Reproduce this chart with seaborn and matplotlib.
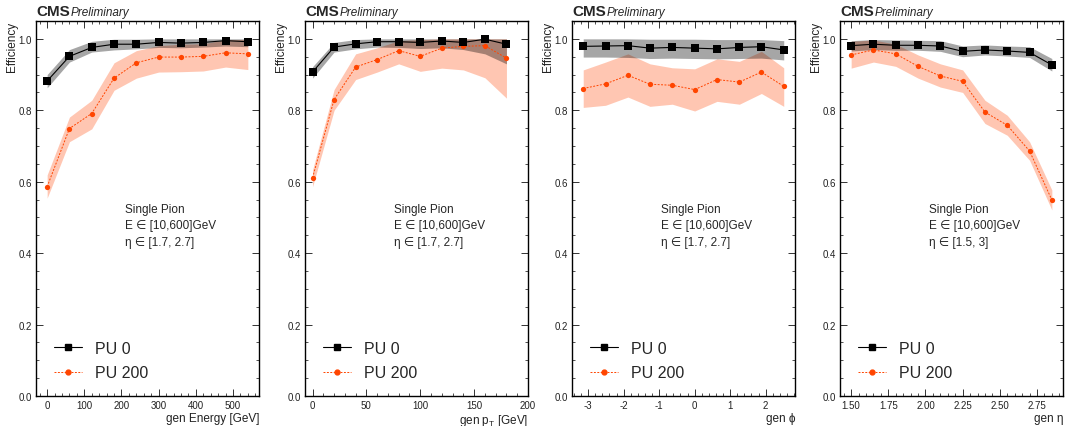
import numpy as np
import pandas as pd
import matplotlib
matplotlib.use("Agg")
import matplotlib.pyplot as plt
import seaborn as sns
from matplotlib.ticker import AutoMinorLocator, MultipleLocator
from matplotlib.lines import Line2D

# ---------------- data ----------------
energy_x = [0, 60, 120, 180, 240, 300, 360, 420, 480, 540]
energy_pu0 = [0.882, 0.951, 0.976, 0.985, 0.985, 0.990, 0.988, 0.990, 0.995, 0.992]
energy_pu0_lo = [0.863, 0.935, 0.963, 0.969, 0.972, 0.976, 0.975, 0.977, 0.980, 0.978]
energy_pu0_hi = [0.900, 0.970, 0.993, 0.999, 0.999, 1.000, 1.000, 1.000, 1.000, 1.000]
energy_pu200 = [0.586, 0.749, 0.791, 0.890, 0.933, 0.949, 0.949, 0.951, 0.961, 0.958]
energy_pu200_lo = [0.554, 0.712, 0.748, 0.856, 0.890, 0.907, 0.908, 0.910, 0.921, 0.914]
energy_pu200_hi = [0.619, 0.781, 0.828, 0.933, 0.967, 0.981, 0.985, 0.986, 0.998, 0.998]

pt_x = [0, 20, 40, 60, 80, 100, 120, 140, 160, 180]
pt_pu0 = [0.907, 0.977, 0.986, 0.992, 0.992, 0.990, 0.994, 0.990, 0.999, 0.985]
pt_pu0_lo = [0.890, 0.963, 0.972, 0.977, 0.976, 0.973, 0.975, 0.970, 0.958, 0.930]
pt_pu0_hi = [0.922, 0.990, 0.998, 1.000, 1.000, 1.000, 1.000, 1.000, 1.000, 1.000]
pt_pu200 = [0.611, 0.830, 0.921, 0.942, 0.967, 0.951, 0.974, 0.979, 0.981, 0.946]
pt_pu200_lo = [0.586, 0.800, 0.886, 0.907, 0.930, 0.909, 0.918, 0.913, 0.891, 0.834]
pt_pu200_hi = [0.633, 0.858, 0.958, 0.975, 0.995, 0.998, 1.000, 1.000, 1.000, 1.000]

phi_x = [-3.14, -2.51, -1.88, -1.26, -0.63, 0.00, 0.63, 1.26, 1.88, 2.51]
phi_pu0 = [0.979, 0.980, 0.981, 0.974, 0.976, 0.974, 0.972, 0.976, 0.978, 0.969]
phi_pu0_lo = [0.949, 0.949, 0.948, 0.945, 0.946, 0.945, 0.944, 0.945, 0.946, 0.941]
phi_pu0_hi = [1.000, 1.000, 1.000, 0.999, 0.999, 0.999, 0.998, 0.998, 0.998, 0.995]
phi_pu200 = [0.861, 0.874, 0.898, 0.873, 0.870, 0.858, 0.886, 0.879, 0.907, 0.867]
phi_pu200_lo = [0.808, 0.814, 0.837, 0.811, 0.817, 0.798, 0.825, 0.817, 0.847, 0.811]
phi_pu200_hi = [0.913, 0.935, 0.958, 0.930, 0.919, 0.916, 0.944, 0.937, 0.965, 0.919]

eta_x = [1.50, 1.65, 1.80, 1.95, 2.10, 2.25, 2.40, 2.55, 2.70, 2.85]
eta_pu0 = [0.981, 0.985, 0.982, 0.982, 0.980, 0.965, 0.969, 0.966, 0.962, 0.927]
eta_pu0_lo = [0.966, 0.970, 0.968, 0.968, 0.965, 0.950, 0.955, 0.952, 0.948, 0.910]
eta_pu0_hi = [0.995, 0.998, 0.997, 0.996, 0.995, 0.980, 0.983, 0.980, 0.978, 0.945]
eta_pu200 = [0.955, 0.969, 0.958, 0.923, 0.896, 0.881, 0.795, 0.758, 0.686, 0.549]
eta_pu200_lo = [0.918, 0.935, 0.923, 0.890, 0.865, 0.850, 0.763, 0.730, 0.660, 0.521]
eta_pu200_hi = [0.993, 0.997, 0.985, 0.955, 0.930, 0.913, 0.828, 0.786, 0.712, 0.577]

series_labels = ["PU 0", "PU 200"]
x_titles = ["gen Energy [GeV]", "gen p$_\\mathrm{T}$ [GeV]", "gen ϕ", "gen η"]
info_texts = [
    "Single Pion\nE ∈ [10,600]GeV\nη ∈ [1.7, 2.7]",
    "Single Pion\nE ∈ [10,600]GeV\nη ∈ [1.7, 2.7]",
    "Single Pion\nE ∈ [10,600]GeV\nη ∈ [1.7, 2.7]",
    "Single Pion\nE ∈ [10,600]GeV\nη ∈ [1.5, 3]",
]
x_limits = [(-30, 570), (-7, 200), (-3.456, 2.827), (1.425, 2.925)]
x_major = [100, 50, 1, 0.25]

panels = [
    (energy_x, energy_pu0, energy_pu0_lo, energy_pu0_hi, energy_pu200, energy_pu200_lo, energy_pu200_hi),
    (pt_x, pt_pu0, pt_pu0_lo, pt_pu0_hi, pt_pu200, pt_pu200_lo, pt_pu200_hi),
    (phi_x, phi_pu0, phi_pu0_lo, phi_pu0_hi, phi_pu200, phi_pu200_lo, phi_pu200_hi),
    (eta_x, eta_pu0, eta_pu0_lo, eta_pu0_hi, eta_pu200, eta_pu200_lo, eta_pu200_hi),
]

# ---------------- style ----------------
sns.set_theme(style="ticks")
plt.rcParams["font.family"] = ["Liberation Sans", "DejaVu Sans"]
plt.rcParams["mathtext.fontset"] = "custom"
plt.rcParams["mathtext.rm"] = "Liberation Sans"
plt.rcParams["mathtext.it"] = "Liberation Sans:italic"
plt.rcParams["mathtext.sf"] = "Liberation Sans"
plt.rcParams["mathtext.fallback"] = "cm"

ORANGE = "#ff4500"

W, H = 1073, 427
fig = plt.figure(figsize=(W / 100, H / 100), dpi=100)
lefts = [36, 305, 572, 840]
ax_w = 223
ax_bottom = 30
ax_h = 375

for i, (x, p0, p0lo, p0hi, p2, p2lo, p2hi) in enumerate(panels):
    ax = fig.add_axes([lefts[i] / W, ax_bottom / H, ax_w / W, ax_h / H])
    ax.fill_between(x, p2lo, p2hi, color=ORANGE, alpha=0.3, linewidth=0)
    ax.fill_between(x, p0lo, p0hi, color="black", alpha=0.35, linewidth=0)
    df0 = pd.DataFrame({"x": x, "y": p0})
    df2 = pd.DataFrame({"x": x, "y": p2})
    sns.lineplot(data=df2, x="x", y="y", ax=ax, color=ORANGE, marker="o",
                 markersize=3.8, markeredgewidth=0, linewidth=0.7, linestyle=(0, (2, 1.5)),
                 sort=False, legend=False)
    sns.lineplot(data=df0, x="x", y="y", ax=ax, color="black", marker="s",
                 markersize=5.8, markeredgewidth=0, linewidth=0.8,
                 sort=False, legend=False)

    ax.set_xlim(*x_limits[i])
    ax.set_ylim(0, 1.05)
    ax.xaxis.set_major_locator(MultipleLocator(x_major[i]))
    ax.xaxis.set_minor_locator(AutoMinorLocator(5))
    ax.yaxis.set_major_locator(MultipleLocator(0.2))
    ax.yaxis.set_minor_locator(MultipleLocator(0.05))
    ax.tick_params(which="both", direction="in", top=True, right=True,
                   labelsize=7, colors="#333333", labelcolor="#222222", pad=3)
    ax.tick_params(which="major", length=5, width=0.7)
    ax.tick_params(which="minor", length=2.5, width=0.6)
    if i == 3:
        ax.set_xticks([1.5, 1.75, 2.0, 2.25, 2.5, 2.75])
        ax.set_xticklabels(["1.50", "1.75", "2.00", "2.25", "2.50", "2.75"])
    if i == 2:
        ax.set_xticks([-3, -2, -1, 0, 1, 2])
        ax.set_xticklabels(["-3", "-2", "-1", "0", "1", "2"])
    for sp in ax.spines.values():
        sp.set_linewidth(1.0)
        sp.set_color("black")

    ax.set_xlabel(x_titles[i], fontsize=8.5, loc="right", labelpad=1, color="#222222")
    ax.set_ylabel("Efficiency", fontsize=8.5, loc="top", labelpad=0, color="#222222")

    ax.text(0.0, 1.008, "CMS", transform=ax.transAxes, fontsize=11,
            fontweight="bold", va="bottom", ha="left")
    ax.text(0.155, 1.008, "Preliminary", transform=ax.transAxes, fontsize=8.5,
            fontstyle="italic", va="bottom", ha="left")

    ax.text(0.40, 0.515, info_texts[i], transform=ax.transAxes, fontsize=8.5,
            va="top", ha="left", linespacing=1.5)

    handles = [
        Line2D([], [], color="black", marker="s", markersize=5, linewidth=0.8),
        Line2D([], [], color=ORANGE, marker="o", markersize=3.5, linewidth=0.7,
               linestyle=(0, (2, 1.5))),
    ]
    ax.legend(handles, series_labels, loc="lower left", bbox_to_anchor=(0.05, 0.025),
              frameon=False, fontsize=11.5, handlelength=1.8, handletextpad=0.8,
              labelspacing=0.6, borderaxespad=0)

fig.savefig("out.png", dpi=100)
